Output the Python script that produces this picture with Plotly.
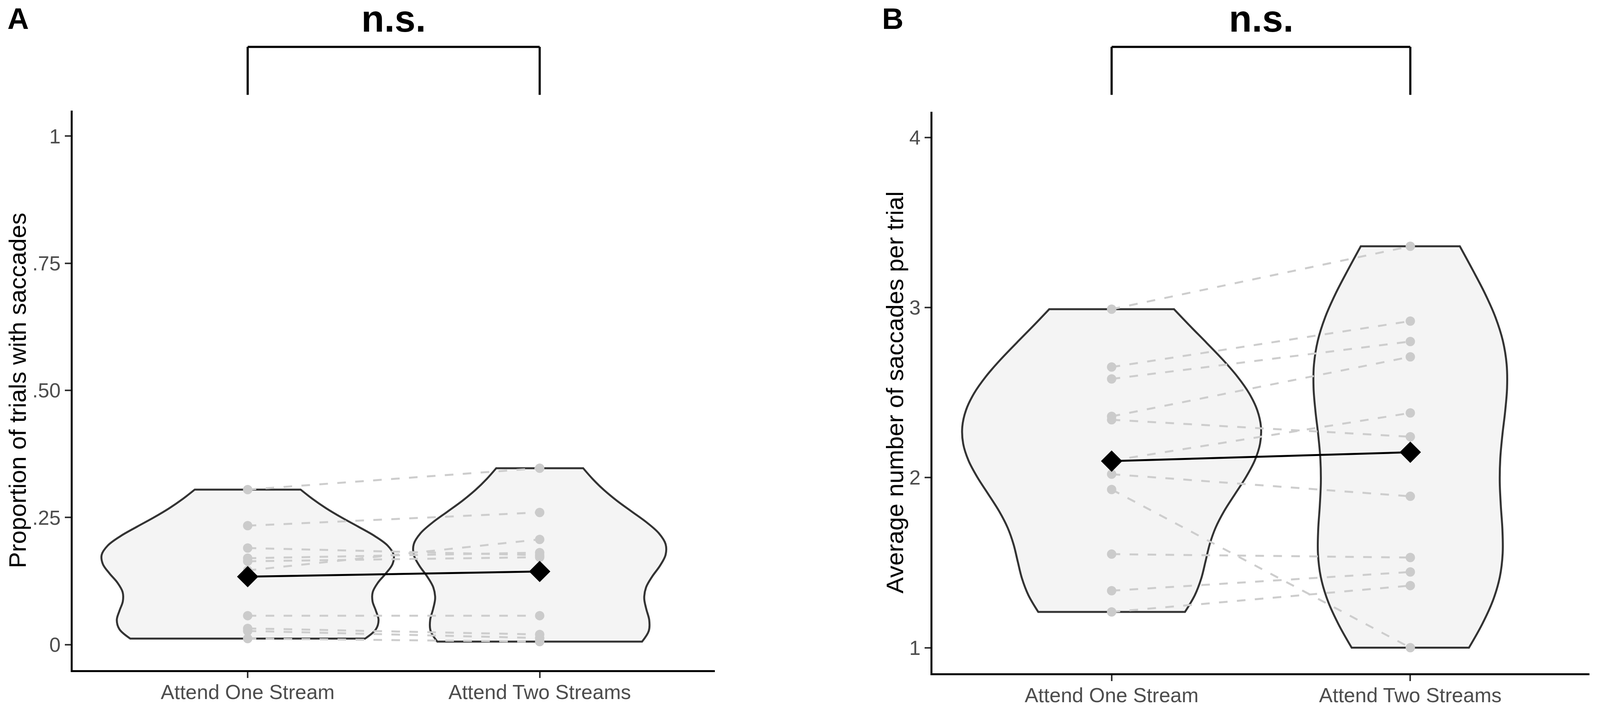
import numpy as np
import plotly.graph_objects as go

# conditions (x categories)
conditions = ["Attend One Stream", "Attend Two Streams"]

# A: proportion of trials with saccades, one value per participant (paired)
prop_one = [0.305, 0.234, 0.190, 0.170, 0.164, 0.146, 0.057, 0.032, 0.027, 0.012]
prop_two = [0.347, 0.260, 0.176, 0.181, 0.172, 0.207, 0.057, 0.020, 0.013, 0.006]

# B: average number of saccades per trial (paired)
avg_one = [2.99, 2.65, 2.58, 2.36, 2.34, 2.10, 2.02, 1.93, 1.55, 1.335, 1.21]
avg_two = [3.36, 2.92, 2.80, 2.71, 2.24, 2.38, 1.89, 1.00, 1.53, 1.445, 1.365]

# tick labels
tickvals_a = [0, 0.25, 0.5, 0.75, 1]
ticktext_a = ["0", ".25", ".50", ".75", "1"]
tickvals_b = [1, 2, 3, 4]
ticktext_b = ["1", "2", "3", "4"]

title_a = "Proportion of trials with saccades"
title_b = "Average number of saccades per trial"
sig_label = "n.s."

# the browser viewport is 4096 wide, so the figure is drawn a bit narrower
# than the 4550x1817 original; layout below is given as fractions of that
W, H = 4080, 1800
RW, RH = 4550, 1817
FONT = "Liberation Sans"


def fx(px):
    return px / RW


def fy(py):
    return 1 - py / RH


def nrd0(v):
    # same rule as R's bw.nrd0 (ggplot violin default)
    v = np.asarray(v, dtype=float)
    sd = v.std(ddof=1)
    q75, q25 = np.percentile(v, [75, 25])
    return 0.9 * min(sd, (q75 - q25) / 1.34) * len(v) ** -0.2


fig = go.Figure()


def add_panel(one, two, xa, ya, group):
    # violins, scaled together so areas are comparable
    for cond, vals in zip(conditions, (one, two)):
        fig.add_trace(go.Violin(
            x=[cond] * len(vals), y=vals, xaxis=xa, yaxis=ya,
            scalegroup=group, scalemode="width", spanmode="hard",
            bandwidth=nrd0(vals), points=False,
            fillcolor="#f4f4f4", line=dict(color="#333333", width=5),
            hoverinfo="skip", showlegend=False,
        ))

    # dashed lines joining each participant
    lx, ly = [], []
    for a, b in zip(one, two):
        lx += [conditions[0], conditions[1], None]
        ly += [a, b, None]
    fig.add_trace(go.Scatter(
        x=lx, y=ly, xaxis=xa, yaxis=ya, mode="lines",
        line=dict(color="#cdcdcd", width=5, dash="22px,24px"),
        hoverinfo="skip", showlegend=False,
    ))

    # participant points
    for cond, vals in zip(conditions, (one, two)):
        fig.add_trace(go.Scatter(
            x=[cond] * len(vals), y=vals, xaxis=xa, yaxis=ya, mode="markers",
            marker=dict(color="#cbcbcb", size=24),
            showlegend=False,
        ))

    # condition means
    fig.add_trace(go.Scatter(
        x=conditions, y=[np.mean(one), np.mean(two)], xaxis=xa, yaxis=ya,
        mode="lines+markers",
        line=dict(color="black", width=5),
        marker=dict(symbol="diamond", color="black", size=42),
        showlegend=False,
    ))


add_panel(prop_one, prop_two, "x", "y", "A")
add_panel(avg_one, avg_two, "x2", "y2", "B")

axis_common = dict(
    showgrid=False, zeroline=False, showline=True, linecolor="black", linewidth=5,
    ticks="outside", ticklen=15, tickwidth=4, tickcolor="#333333",
    tickfont=dict(family=FONT, size=52, color="#4d4d4d"), automargin=False,
)

dom_a = [fy(1723), fy(278)]
dom_b = [fy(1731), fy(281)]

fig.update_layout(
    width=W, height=H,
    margin=dict(l=0, r=0, t=0, b=0),
    paper_bgcolor="white", plot_bgcolor="white",
    font=dict(family=FONT),
    violinmode="overlay", violingap=0, violingroupgap=0,
    xaxis=dict(domain=[fx(198), fx(2032)], anchor="y", type="category",
               categoryorder="array", categoryarray=conditions,
               range=[-0.6, 1.6], ticklabelstandoff=-8, **axis_common),
    yaxis=dict(domain=dom_a, anchor="x",
               range=[-0.05, 1.05], tickvals=tickvals_a, ticktext=ticktext_a,
               **axis_common),
    xaxis2=dict(domain=[fx(2653), fx(4529)], anchor="y2", type="category",
                categoryorder="array", categoryarray=conditions,
                range=[-0.6, 1.6], ticklabelstandoff=-8, **axis_common),
    yaxis2=dict(domain=dom_b, anchor="x2",
                range=[0.85, 4.15], tickvals=tickvals_b, ticktext=ticktext_b,
                **axis_common),
)

# significance brackets above each panel
shapes = []
for xr in ("x", "x2"):
    for x0, y0, x1, y1 in [(0, 237, 0, 113), (0, 113, 1, 113), (1, 113, 1, 237)]:
        shapes.append(dict(type="line", xref=xr, yref="paper",
                           x0=x0, x1=x1, y0=fy(y0), y1=fy(y1),
                           line=dict(color="black", width=5.5)))
fig.update_layout(shapes=shapes)

annotations = []
for xr in ("x", "x2"):
    annotations.append(dict(text="<b>%s</b>" % sig_label, xref=xr, yref="paper",
                            x=0.5, y=fy(40), xanchor="center", yanchor="middle",
                            showarrow=False, font=dict(family=FONT, size=96, color="black")))
for label, px in (("A", 10), ("B", 2507)):
    annotations.append(dict(text="<b>%s</b>" % label, xref="paper", yref="paper",
                            x=fx(px), y=fy(40), xanchor="left", yanchor="middle",
                            showarrow=False, font=dict(family=FONT, size=76, color="black")))
for label, px, dom in ((title_a, 40, dom_a), (title_b, 2545, dom_b)):
    annotations.append(dict(text=label, xref="paper", yref="paper",
                            x=fx(px), y=sum(dom) / 2, xanchor="center", yanchor="middle",
                            textangle=-90, showarrow=False,
                            font=dict(family=FONT, size=62, color="black")))
fig.update_layout(annotations=annotations)

fig.write_html("out.html")
